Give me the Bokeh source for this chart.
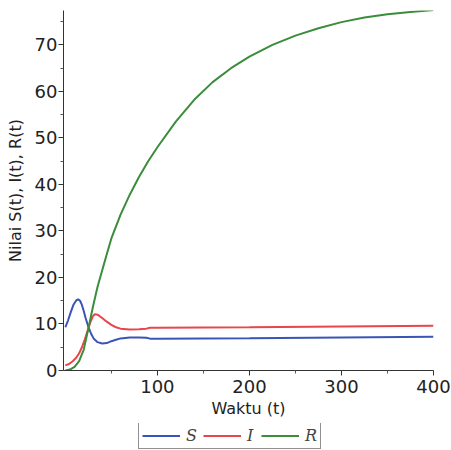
from bokeh.plotting import figure
from bokeh.layouts import column
from bokeh.models import Range1d, FixedTicker, Legend, LegendItem
from bokeh.embed import file_html
from bokeh.resources import INLINE

# Time points and series values
t_S = [0, 3, 6, 9, 12, 14, 16, 18, 20, 22, 25, 28, 31, 35, 40, 45, 50, 55, 60, 70, 80, 88, 92, 100, 200, 300, 400]
S = [9.3, 10.8, 12.6, 14.2, 15.1, 15.3, 15.0, 14.1, 12.8, 11.3, 9.4, 7.9, 6.8, 6.1, 5.8, 5.9, 6.3, 6.6, 6.9, 7.1, 7.1, 7.05, 6.85, 6.85, 6.95, 7.1, 7.25]

t_I = [0, 4, 8, 12, 15, 18, 21, 24, 27, 30, 32, 35, 40, 45, 50, 55, 60, 70, 80, 88, 92, 100, 200, 300, 400]
I = [1.1, 1.4, 2.0, 2.8, 3.7, 5.0, 6.6, 8.4, 10.3, 11.7, 12.1, 12.0, 11.3, 10.5, 9.8, 9.3, 9.0, 8.8, 8.85, 9.0, 9.2, 9.2, 9.3, 9.45, 9.6]

t_R = [0, 5, 10, 15, 20, 25, 30, 35, 40, 45, 50, 60, 70, 80, 90, 100, 120, 140, 160, 180, 200, 225, 250, 275, 300, 325, 350, 375, 400]
R = [0.0, 0.2, 0.8, 2.0, 4.5, 9.0, 13.7, 18.0, 21.5, 25.0, 28.4, 33.5, 37.8, 41.6, 45.0, 48.0, 53.5, 58.2, 62.0, 65.0, 67.5, 70.0, 72.0, 73.6, 74.9, 75.9, 76.6, 77.1, 77.5]

x_ticks = [100, 200, 300, 400]
x_minor = [50, 150, 250, 350]
y_ticks = [0, 10, 20, 30, 40, 50, 60, 70]
y_minor = [5, 15, 25, 35, 45, 55, 65, 75]
labels = ["S", "I", "R"]
colors = ["#3a55b5", "#e8464a", "#3b8c3b"]

p = figure(frame_width=370, frame_height=360, output_backend="svg", toolbar_location=None,
           x_range=Range1d(-2, 400), y_range=Range1d(0, 77.4),
           min_border_left=63, min_border_right=18, min_border_top=10, min_border_bottom=53)
p.outline_line_color = None
p.xgrid.grid_line_color = None
p.ygrid.grid_line_color = None
p.background_fill_color = "white"
p.border_fill_color = "white"

p.line(t_S, S, line_color=colors[0], line_width=2)
p.line(t_I, I, line_color=colors[1], line_width=2)
p.line(t_R, R, line_color=colors[2], line_width=2)

p.xaxis.ticker = FixedTicker(ticks=x_ticks, minor_ticks=x_minor)
p.yaxis.ticker = FixedTicker(ticks=y_ticks, minor_ticks=y_minor)

for ax in (p.xaxis, p.yaxis):
    ax.axis_line_color = "#333333"
    ax.major_tick_line_color = "#333333"
    ax.minor_tick_line_color = "#555555"
    ax.major_tick_in = 0
    ax.major_tick_out = 5
    ax.minor_tick_in = 0
    ax.minor_tick_out = 3
    ax.major_label_text_font = "DejaVu Sans"
    ax.major_label_text_font_size = "18px"
    ax.major_label_text_color = "#222222"
    ax.axis_label_text_font = "DejaVu Sans"
    ax.axis_label_text_font_size = "16px"
    ax.axis_label_text_font_style = "normal"
    ax.axis_label_text_color = "#222222"

p.xaxis.axis_label = "Waktu (t)"
p.yaxis.axis_label = "Nilai S(t), I(t), R(t)"
p.xaxis.major_label_standoff = 4
p.yaxis.major_label_standoff = 1
p.xaxis.axis_label_standoff = 3
p.yaxis.axis_label_standoff = 7

# Legend strip below the chart (series lines are out of its view range; only the legend shows)
p2 = figure(frame_width=370, frame_height=27, output_backend="svg", toolbar_location=None,
            x_range=Range1d(1000, 1001), y_range=Range1d(1000, 1001),
            x_axis_type=None, y_axis_type=None,
            min_border_left=63, min_border_right=18, min_border_top=0, min_border_bottom=0)
p2.outline_line_color = None
p2.xgrid.grid_line_color = None
p2.ygrid.grid_line_color = None
p2.background_fill_color = "white"
p2.border_fill_color = "white"

items = []
for lab, col, tx, ty in zip(labels, colors, (t_S, t_I, t_R), (S, I, R)):
    r = p2.line(tx, ty, line_color=col, line_width=2)
    items.append(LegendItem(label=lab, renderers=[r]))

legend = Legend(items=items, orientation="horizontal", location=(75, 1))
legend.border_line_color = "#222222"
legend.border_line_width = 1
legend.label_text_font = "DejaVu Serif"
legend.label_text_font_style = "italic"
legend.label_text_font_size = "16px"
legend.glyph_width = 38
legend.glyph_height = 17
legend.label_height = 17
legend.label_width = 8
legend.label_standoff = 6
legend.spacing = 6
legend.padding = 3
legend.margin = 0
legend.background_fill_color = "white"
p2.add_layout(legend)

layout = column(p, p2, spacing=0)
open("out.html", "w").write(file_html(layout, INLINE))
